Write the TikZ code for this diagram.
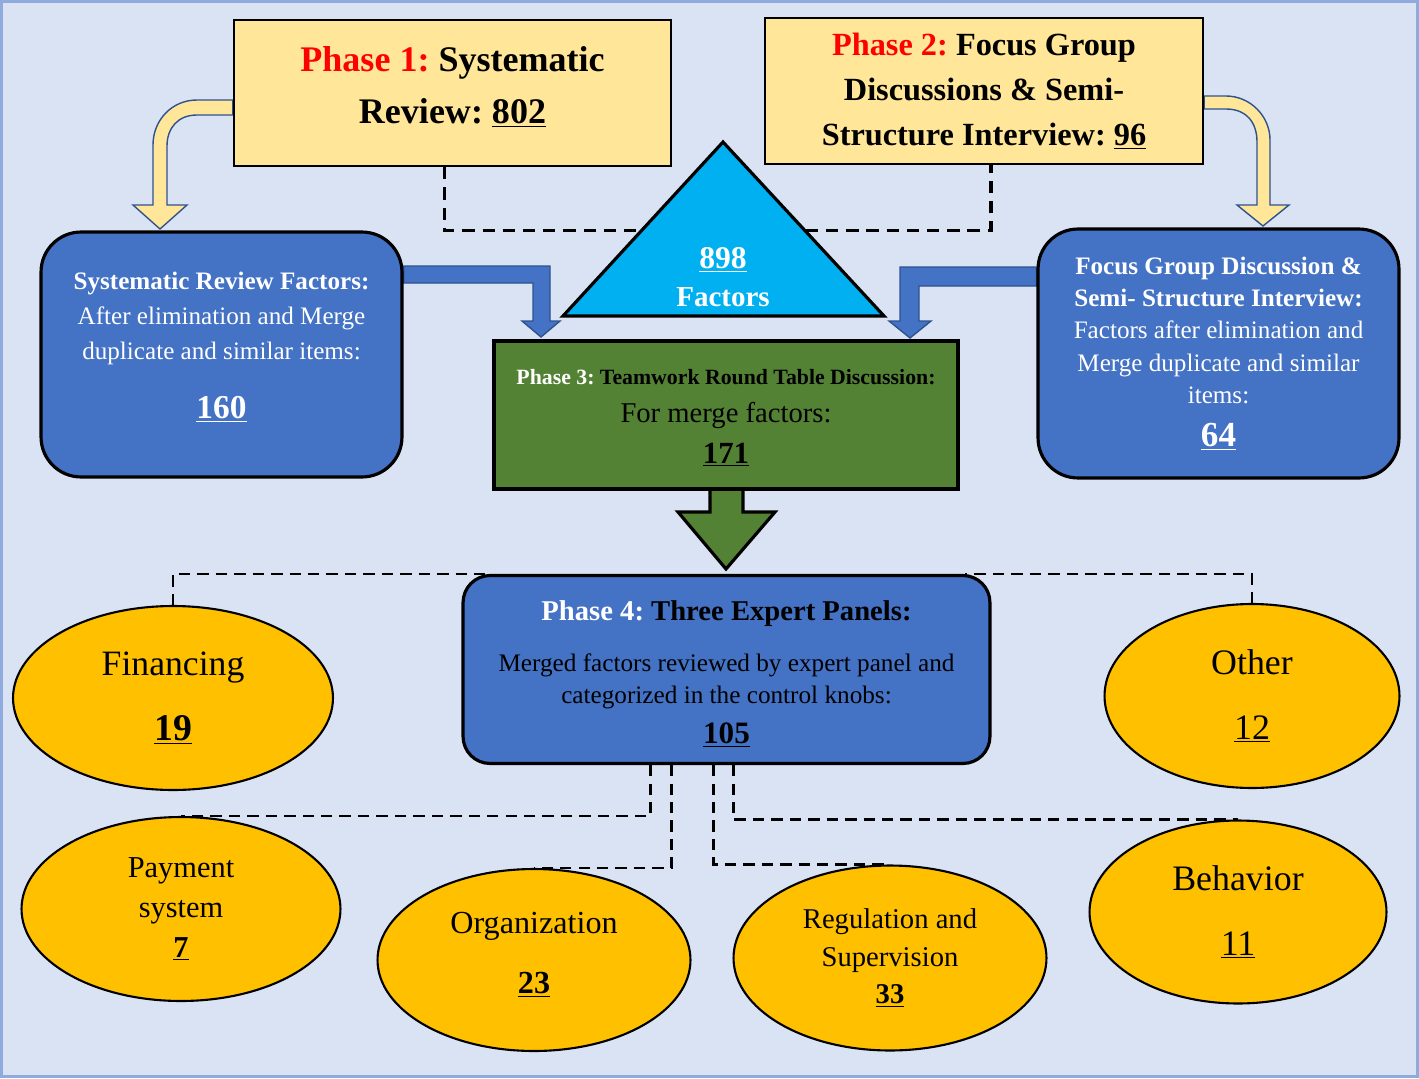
\documentclass[tikz,border=0pt]{standalone}
\usepackage{fontspec}
\setmainfont{Liberation Serif}
\usetikzlibrary{shapes.geometric,calc}
\frenchspacing

\definecolor{hgrund}{HTML}{DAE3F3}
\definecolor{rahmen}{HTML}{8FAADC}
\definecolor{gelb}{HTML}{FFE699}
\definecolor{blau}{HTML}{4472C4}
\definecolor{dunkelblau}{HTML}{2F528F}
\definecolor{tuerkis}{HTML}{00B0F0}
\definecolor{gruen}{HTML}{548235}
\definecolor{knopfgelb}{HTML}{FFC000}
\definecolor{rot}{HTML}{FF0000}

\pgfdeclarelayer{hinten}
\pgfdeclarelayer{mitte}
\pgfsetlayers{hinten,mitte,main}

\tikzset{
  phasebox/.style={draw=black, line width=1.3pt, fill=gelb, align=center, inner sep=0pt},
  blaubox/.style={draw=black, line width=1.8pt, fill=blau, rounded corners=0.8cm, align=center, text=white, inner sep=0pt},
  gruenbox/.style={draw=black, line width=1.8pt, fill=gruen, align=center, inner sep=0pt},
  knopf/.style={ellipse, draw=black, line width=1.2pt, fill=knopfgelb, align=center, inner sep=0pt},
  strich/.style={line width=1.8pt, dash pattern=on 7pt off 4.5pt},
  duennstrich/.style={line width=1.4pt, dash pattern=on 6.5pt off 4pt},
  gelbpfeil/.style={fill=gelb, draw=dunkelblau, line width=0.8pt},
  blaupfeil/.style={fill=blau, draw=dunkelblau, line width=0.8pt},
  gruenpfeil/.style={fill=gruen, draw=black, line width=1.8pt},
}

\begin{document}
\begin{tikzpicture}[x=0.02cm,y=-0.02cm]
	\useasboundingbox (0,0) rectangle (1419,1078);
	
	% Hintergrund
	\begin{pgfonlayer}{hinten}
		\fill[hgrund] (0,0) rectangle (1419,1078);
		\draw[rahmen, line width=1.2pt] (1.5,1.5) rectangle (1417.5,1076.5);
	\end{pgfonlayer}
	
	% Phase 1 und Phase 2
	\node[phasebox, minimum width=8.74cm, minimum height=2.92cm, text depth=9pt, font=\fontsize{20.5}{29.5}\selectfont\bfseries] (p1) at (452.5,93) {\textcolor{rot}{Phase 1:} Systematic\\Review: \underline{802}};
	\node[phasebox, minimum width=8.76cm, minimum height=2.92cm, font=\fontsize{18.4}{25.5}\selectfont\bfseries] (p2) at (984,91) {\textcolor{rot}{Phase 2:} Focus Group\\Discussions \& Semi-\\Structure Interview: \underline{96}};
	
	% Faktoren nach Bereinigung
	\node[blaubox, minimum width=7.22cm, minimum height=4.9cm, text depth=10.5pt, font=\fontsize{14.3}{19.8}\selectfont] (sr) at (221.5,354.5) {\textbf{Systematic Review Factors:}\\After elimination and Merge\\duplicate and similar items:\\[14pt]{\fontsize{19}{20}\selectfont\bfseries\underline{160}}};
	\node[blaubox, minimum width=7.22cm, minimum height=4.98cm, font=\fontsize{14.3}{18.4}\selectfont] (fgd) at (1218.5,353.5) {\textbf{Focus Group Discussion \&}\\\textbf{Semi- Structure Interview:}\\Factors after elimination and\\Merge duplicate and similar\\items:\\[6pt]{\fontsize{20}{20}\selectfont\bfseries\underline{64}}};
	
	% Phase 3 und Phase 4
	\node[gruenbox, minimum width=9.28cm, minimum height=2.96cm, font=\fontsize{16.3}{21.5}\selectfont] (p3) at (726,415) {\rule{0pt}{12pt}{\fontsize{12.4}{14}\selectfont\bfseries\textcolor{white}{Phase 3:} Teamwork Round Table Discussion:}\\For merge factors:\\[2pt]{\fontsize{17.5}{20}\selectfont\bfseries\underline{171}}};
	\node[blaubox, rounded corners=0.54cm, minimum width=10.54cm, minimum height=3.76cm, text=black, font=\fontsize{14.35}{18}\selectfont] (p4) at (726.5,669.5) {\rule{0pt}{16.5pt}{\fontsize{16.3}{18}\selectfont\bfseries\textcolor{white}{Phase 4:} Three Expert Panels:}\\[11pt]Merged factors reviewed by expert panel and\\categorized in the control knobs:\\[5pt]{\fontsize{17.7}{20}\selectfont\bfseries\underline{105}}};
	
	% Kontrollknoepfe
	\node[knopf, minimum width=6.4cm, minimum height=3.68cm, font=\fontsize{20.3}{37}\selectfont] (fin) at (173,698) {Financing\\{\fontsize{21.5}{22}\selectfont\bfseries\underline{19}}};
	\node[knopf, minimum width=5.9cm, minimum height=3.68cm, font=\fontsize{20.4}{37}\selectfont] (oth) at (1252,696) {Other\\\underline{12}};
	\node[knopf, minimum width=5.94cm, minimum height=3.66cm, font=\fontsize{20.4}{37}\selectfont] (beh) at (1238,912) {Behavior\\\underline{11}};
	\node[knopf, minimum width=6.38cm, minimum height=3.68cm, font=\fontsize{17.3}{22.7}\selectfont] (pay) at (181,909) {Payment\\system\\{\bfseries\underline{7}}};
	\node[knopf, minimum width=6.26cm, minimum height=3.64cm, text depth=8pt, font=\fontsize{18.3}{34}\selectfont] (org) at (534,960) {Organization\\{\bfseries\underline{23}}};
	\node[knopf, minimum width=6.26cm, minimum height=3.7cm, font=\fontsize{16.3}{21.3}\selectfont] (reg) at (890,958) {Regulation and\\Supervision\\{\bfseries\underline{33}}};
	
	% Dreieck mit Summe
	\filldraw[fill=tuerkis, draw=black, line width=1.8pt] (723,142) -- (884,316) -- (563,316) -- cycle;
	\node[text=white, align=center, font=\fontsize{16.5}{21.5}\selectfont\bfseries] (tri) at (723,277) {{\fontsize{18}{20}\selectfont\underline{898}}\\Factors};
	
	\begin{pgfonlayer}{mitte}
		% gestrichelte Verbindungen
		\draw[strich] ([xshift=-0.16cm]p1.south) -- ++(0,63) -| ([xshift=0.14cm]p2.south);
		\draw[duennstrich] (fin.north) |- ([xshift=0.54cm]p4.north west);
		\draw[duennstrich] (oth.north) |- ([xshift=-0.54cm]p4.north east);
		\draw[duennstrich] ($(p4.south)+(-76,0)$) |- (pay.north);
		\draw[duennstrich] ($(p4.south)+(-55,0)$) |- (org.north);
		\draw[duennstrich] ($(p4.south)+(-13,0)$) |- (reg.north);
		\draw[duennstrich] ($(p4.south)+(7,0)$) |- (beh.north);
		
		% gelbe Bogenpfeile
		\filldraw[gelbpfeil] (p1.west |- 0,100) -- (197,100) .. controls (172,100) and (153,120) .. (153,145) -- (153,205) -- (133,205) -- (160,229) -- (187,205) -- (167,205) -- (167,146) .. controls (167,128) and (178,115) .. (197,115) -- (p1.west |- 0,115) -- cycle;
		\filldraw[gelbpfeil] (p2.east |- 0,96) -- (1226,96) .. controls (1250,96) and (1270,116) .. (1270,140) -- (1270,205) -- (1289,205) -- (1263,226) -- (1237,205) -- (1257,205) -- (1257,142) .. controls (1257,122) and (1246,109) .. (1226,109) -- (p2.east |- 0,109) -- cycle;
		
		% blaue Pfeile zu Phase 3
		\filldraw[blaupfeil] (sr.east |- 0,266) -- (550,266) -- (550,321) -- (560,321) -- (541,337) -- (522,321) -- (533,321) -- (533,283) -- (sr.east |- 0,283) -- cycle;
		\filldraw[blaupfeil] (fgd.west |- 0,267) -- (900,267) -- (900,321) -- (889,321) -- (910,338) -- (931,321) -- (919,321) -- (919,286) -- (fgd.west |- 0,286) -- cycle;
		
		% gruener Pfeil zu Phase 4
		\filldraw[gruenpfeil] (710,480) -- (710,512) -- (678,512) -- (726,569) -- (775,512) -- (743,512) -- (743,480) -- cycle;
	\end{pgfonlayer}
\end{tikzpicture}
\end{document}
